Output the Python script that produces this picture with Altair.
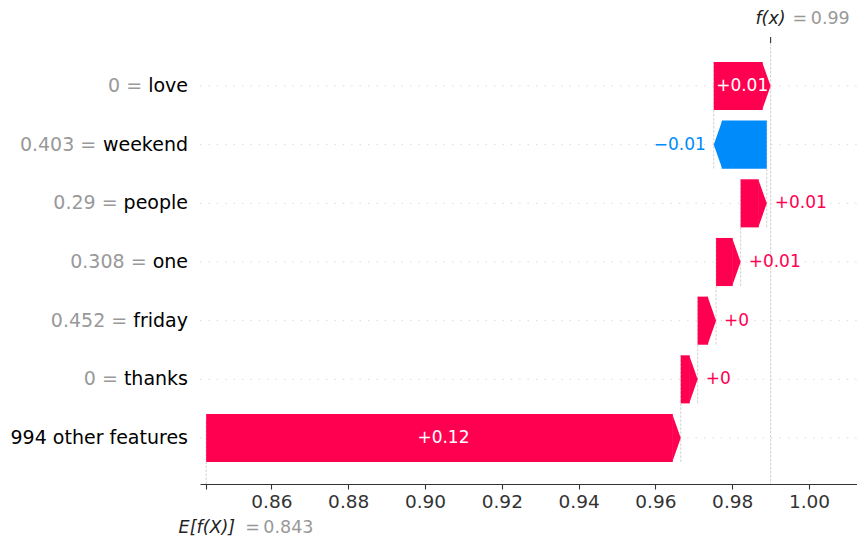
import altair as alt
import pandas as pd

# ---------------- data ----------------
features = ["love", "weekend", "people", "one", "friday", "thanks", "994 other features"]
feature_values = ["0", "0.403", "0.29", "0.308", "0.452", "0", ""]
shap_values = [0.0148, -0.0138, 0.0068, 0.0064, 0.0048, 0.0044, 0.1236]
base_value = 0.843
fx_value = 0.99
x_ticks = [0.86, 0.88, 0.90, 0.92, 0.94, 0.96, 0.98, 1.00]

RED = "#ff0051"
BLUE = "#008bfb"
FONT = "DejaVu Sans"

# ---------------- layout ----------------
W, H = 657, 441
X_DOMAIN = [0.8414, 1.0125]
Y_DOMAIN = [-0.784, 6.733]
HALF = 0.41                      # half bar height in row units
HEAD_PX = 8                      # arrow head length in px
VAL_FS = 17
LAB_FS = 19
ANN_FS = 17.5
LAB_X = -12
px_per_unit = W / (X_DOMAIN[1] - X_DOMAIN[0])
bar_px = 2 * HALF * H / (Y_DOMAIN[1] - Y_DOMAIN[0])
head_size = bar_px ** 2
hl = HEAD_PX / (bar_px / 2) + 0.02

# DejaVu Sans advance widths (units per 2048 em)
ADV = {"a": 1255, "b": 1300, "c": 1126, "d": 1300, "e": 1260, "f": 721, "g": 1300,
       "h": 1298, "i": 569, "k": 1186, "l": 569, "n": 1298, "o": 1253, "p": 1300,
       "r": 842, "s": 1067, "t": 803, "u": 1298, "v": 1212, "w": 1675, "y": 1212,
       " ": 651, "=": 1716, ".": 651, "+": 1716, "\u2212": 1716}


def width_px(s, fs):
    return sum(ADV.get(c, 1303) for c in s) / 2048.0 * fs


def fmt(v):
    s = "%+0.02f" % v
    s = s.rstrip("0").rstrip(".")
    if s.startswith("-"):
        s = "\u2212" + s[1:]
    return s


n = len(features)
rows = []
loc = fx_value
for i, (f, fv, v) in enumerate(zip(features, feature_values, shap_values)):
    tip = loc
    tail = loc - v
    loc = tail
    lab = fmt(v)
    rows.append({
        "feature": f,
        "prefix": (fv + " =") if fv else "",
        "prefix_x": LAB_X - width_px(" " + f, LAB_FS),
        "row": n - 1 - i,
        "top": n - 1 - i + HALF,
        "bot": n - 1 - i - HALF,
        "conn_bot": n - 1 - i - 1 - HALF,
        "tail": tail,
        "tip": tip,
        "mid": (tail + tip) / 2,
        "pos": v >= 0,
        "label": lab,
        "inside": width_px(lab, VAL_FS) + 2 < abs(v) * px_per_unit,
        "individual": i < n - 1,
    })
df = pd.DataFrame(rows)
pos = df[df["pos"]]
neg = df[~df["pos"]]

xs = alt.Scale(domain=X_DOMAIN, nice=False, zero=False)
ys = alt.Scale(domain=Y_DOMAIN, nice=False, zero=False)
AX = alt.Axis(
    values=[base_value] + x_ticks,
    labelExpr="datum.value < 0.85 ? '' : format(datum.value, '.2f')",
    title=None, grid=False, domainColor="#333333", domainWidth=1.1,
    tickColor="#333333", tickSize=5, tickWidth=1.1,
    labelColor="#333333", labelFontSize=18.5, labelFont=FONT, labelPadding=3,
)
X = lambda f: alt.X(f, type="quantitative", scale=xs, axis=AX)
Y = lambda f: alt.Y(f, type="quantitative", scale=ys, axis=None)

base = alt.Chart(df)
DASH = dict(color="#bbbbbb", strokeWidth=0.7, strokeDash=[2.6, 1.4])

# horizontal dotted row lines
hlines = base.mark_rule(color="#cccccc", strokeWidth=0.7, strokeDash=[1.4, 7]).encode(
    y=Y("row"), x=alt.value(0), x2=alt.value(W)
)

# vertical connectors
conn = alt.Chart(df[df["individual"]]).mark_rule(**DASH).encode(
    x=X("tail"), y=Y("top"), y2=alt.Y2("conn_bot"))

ref = pd.DataFrame({"v": [base_value], "f": [fx_value]})
base_line = alt.Chart(ref).mark_rule(**DASH).encode(
    x=X("v"), y=alt.value(H), y2=alt.value(H - H / n))
fx_line = alt.Chart(ref).mark_rule(**DASH).encode(
    x=X("f"), y=alt.value(0), y2=alt.value(H))
fx_tick = alt.Chart(ref).mark_rule(color="#333333", strokeWidth=1.1).encode(
    x=X("f"), y=alt.value(-6), y2=alt.value(0))

# arrow bodies and heads
body_pos = alt.Chart(pos).mark_rect(color=RED, x2Offset=-HEAD_PX).encode(
    x=X("tail"), x2=alt.X2("tip"), y=Y("top"), y2=alt.Y2("bot"))
body_neg = alt.Chart(neg).mark_rect(color=BLUE, x2Offset=HEAD_PX).encode(
    x=X("tail"), x2=alt.X2("tip"), y=Y("top"), y2=alt.Y2("bot"))
head_pos = alt.Chart(pos).mark_point(
    shape="M-%.3f,-1 L0,0 L-%.3f,1 Z" % (hl, hl), size=head_size,
    filled=True, opacity=1, color=RED, strokeWidth=0
).encode(x=X("tip"), y=Y("row"))
head_neg = alt.Chart(neg).mark_point(
    shape="M%.3f,-1 L0,0 L%.3f,1 Z" % (hl, hl), size=head_size,
    filled=True, opacity=1, color=BLUE, strokeWidth=0
).encode(x=X("tip"), y=Y("row"))

# value labels
lab_in = alt.Chart(df[df["inside"]]).mark_text(
    color="white", fontSize=VAL_FS, font=FONT, align="center", baseline="middle"
).encode(x=X("mid"), y=Y("row"), text="label")
lab_out_pos = alt.Chart(pos[~pos["inside"]]).mark_text(
    color=RED, fontSize=VAL_FS, font=FONT, align="left", baseline="middle", dx=8
).encode(x=X("tip"), y=Y("row"), text="label")
lab_out_neg = alt.Chart(neg[~neg["inside"]]).mark_text(
    color=BLUE, fontSize=VAL_FS, font=FONT, align="right", baseline="middle", dx=-8
).encode(x=X("tip"), y=Y("row"), text="label")

# feature labels: grey "value =" followed by black feature name
ylab_grey = alt.Chart(df[df["prefix"] != ""]).mark_text(
    color="#999999", fontSize=LAB_FS, font=FONT, align="right", baseline="middle"
).encode(x=alt.X("prefix_x", type="quantitative", scale=None), y=Y("row"), text="prefix")
ylab_black = base.mark_text(color="#000000", fontSize=LAB_FS, font=FONT, align="right", baseline="middle").encode(
    x=alt.value(LAB_X), y=Y("row"), text="feature")

# f(x) and E[f(X)] annotations
fx_t1 = alt.Chart(ref).mark_text(text="f(x)", fontStyle="italic", fontSize=ANN_FS, font=FONT,
                                 color="#222222", align="right", baseline="middle", dx=15).encode(
    x=X("f"), y=alt.value(-24))
fx_t2 = alt.Chart(ref).mark_text(text="=\u2009%g" % fx_value, fontSize=ANN_FS, font=FONT,
                                 color="#999999", align="left", baseline="middle", dx=22).encode(
    x=X("f"), y=alt.value(-24))
ex_t1 = alt.Chart(ref).mark_text(text="E[f(X)]", fontStyle="italic", fontSize=ANN_FS, font=FONT,
                                 color="#222222", align="right", baseline="middle", dx=29).encode(
    x=X("v"), y=alt.value(H + 43.5))
ex_t2 = alt.Chart(ref).mark_text(text="=\u2009%0.03f" % base_value, fontSize=ANN_FS, font=FONT,
                                 color="#999999", align="left", baseline="middle", dx=39).encode(
    x=X("v"), y=alt.value(H + 43.5))

chart = alt.layer(
    hlines, conn, base_line, fx_line, fx_tick,
    body_pos, body_neg, head_pos, head_neg,
    lab_in, lab_out_pos, lab_out_neg,
    ylab_grey, ylab_black, fx_t1, fx_t2, ex_t1, ex_t2,
).properties(
    width=W, height=H,
    padding={"left": 200, "top": 43, "right": 0, "bottom": 58},
    autosize=alt.AutoSizeParams(type="none"),
    background="white",
).configure_view(stroke=None)

chart.save("out.html", embed_options={"renderer": "svg", "actions": False})
